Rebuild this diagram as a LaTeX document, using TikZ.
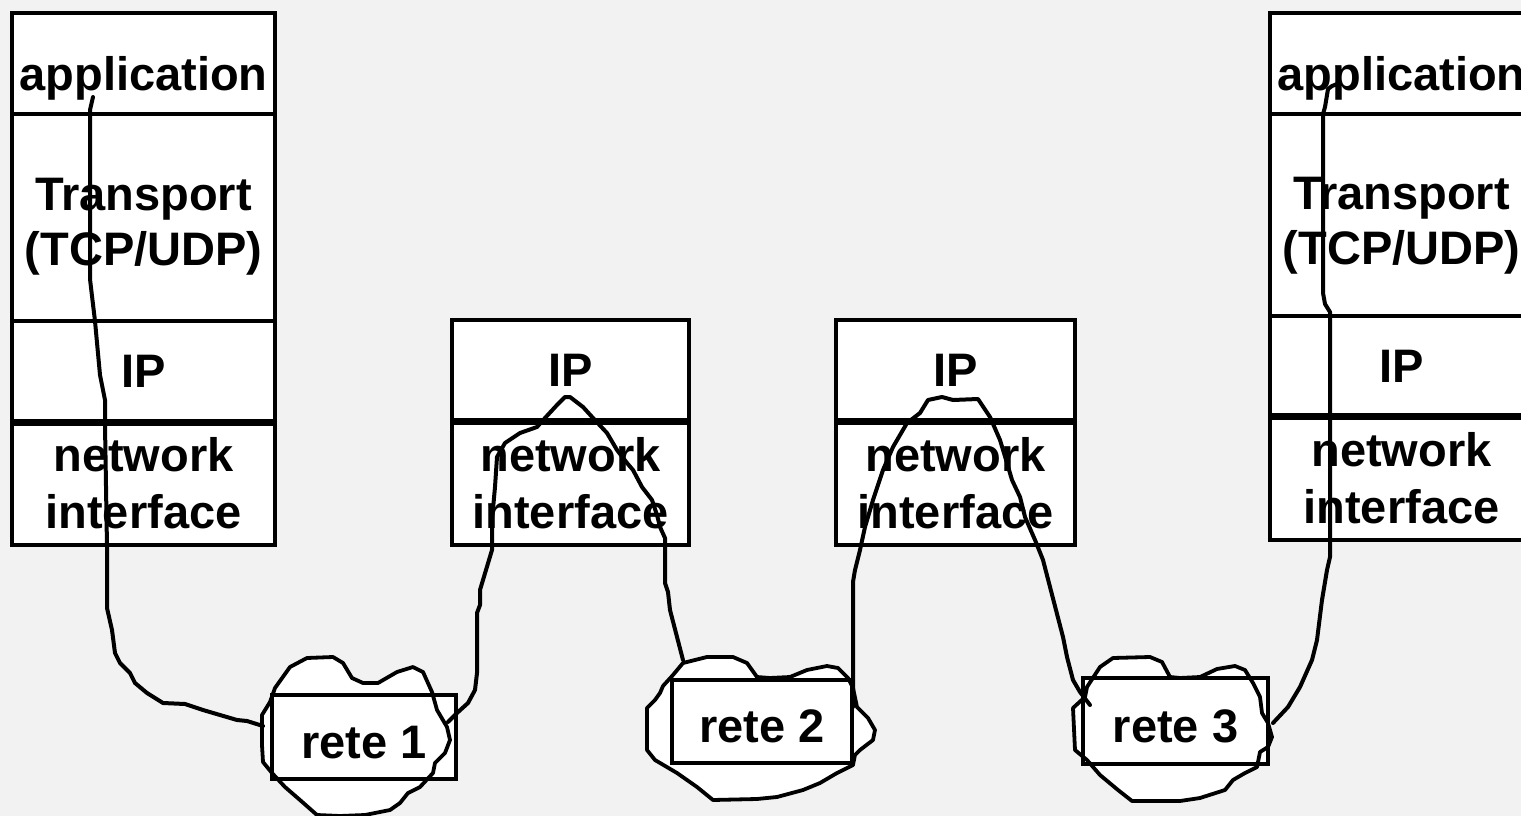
\documentclass[tikz,border=0pt]{standalone}
\usepackage{fontspec}
\setmainfont{Liberation Sans}
\definecolor{paper}{HTML}{F2F2F2}
\begin{document}
\begin{tikzpicture}[x=1pt,y=-1pt,
  lbl/.style={font=\bfseries\fontsize{47}{56}\selectfont, align=center},
  layer/.style={lbl, draw, line width=4pt, fill=white, inner sep=0pt, outer sep=0pt},
  apptext/.style={text height=55pt, text depth=0pt},
  twoline/.style={font=\bfseries\fontsize{47}{55}\selectfont, text depth=0pt},
  nettext/.style={font=\bfseries\fontsize{47}{57}\selectfont},
  netbox/.style={lbl, draw, line width=4pt, inner sep=0pt, outer sep=0pt, text height=42pt, text depth=0pt},
  seam/.style={line width=7pt},
  route/.style={line width=4pt, line join=round, line cap=round},
  blob/.style={line width=3.8pt, line join=round}]
\useasboundingbox (0,0) rectangle (1521,816);
\fill[paper] (0,0) rectangle (1521,816);
\clip (0,0) rectangle (1521,816);

% host on the left: full protocol stack
\node[layer, apptext, minimum width=263pt, minimum height=101pt, anchor=north west] (appL) at (12,13) {application};
\node[layer, twoline, text height=95pt, minimum width=263pt, minimum height=207pt, anchor=north] (trL) at (appL.south) {Transport\\(TCP/UDP)};
\node[layer, minimum width=263pt, minimum height=101pt, anchor=north] (ipL) at (trL.south) {IP};
\node[layer, nettext, minimum width=263pt, minimum height=123pt, anchor=north] (niL) at (ipL.south) {network\\interface};
\draw[seam] (ipL.south west) -- (ipL.south east);

% first router
\node[layer, minimum width=237pt, minimum height=101pt, anchor=north west] (ipA) at (452,320) {IP};
\node[layer, nettext, minimum width=237pt, minimum height=124pt, anchor=north] (niA) at (ipA.south) {network\\interface};
\draw[seam] (ipA.south west) -- (ipA.south east);

% second router
\node[layer, minimum width=239pt, minimum height=101pt, anchor=north west] (ipB) at (836,320) {IP};
\node[layer, nettext, minimum width=239pt, minimum height=124pt, anchor=north] (niB) at (ipB.south) {network\\interface};
\draw[seam] (ipB.south west) -- (ipB.south east);

% host on the right: full protocol stack
\node[layer, apptext, minimum width=263pt, minimum height=101pt, anchor=north west] (appR) at (1270,13) {application};
\node[layer, twoline, text height=99pt, minimum width=263pt, minimum height=202pt, anchor=north] (trR) at (appR.south) {Transport\\(TCP/UDP)};
\node[layer, minimum width=263pt, minimum height=100pt, anchor=north] (ipR) at (trR.south) {IP};
\node[layer, nettext, minimum width=263pt, minimum height=124pt, anchor=north] (niR) at (ipR.south) {network\\interface};
\draw[seam] (ipR.south west) -- (ipR.south east);

% the three networks: cloud outlines
\def\cloudA{(275,688) -- (290,667) -- (307,658) -- (333,657) -- (343,663) -- (352,678) -- (363,683) -- (378,683) -- (397,672) -- (413,667) -- (423,672) -- (432,692) -- (437,710) -- (447,727) -- (450,740) -- (445,753) -- (435,763) -- (433,773) -- (420,787) -- (408,793) -- (400,803) -- (390,810) -- (365,815) -- (340,816) -- (317,815) -- (300,800) -- (285,787) -- (272,773) -- (263,762) -- (262,745) -- (262,715) -- (270,702) -- cycle}
\def\cloudB{(673,675) -- (683,663) -- (707,657) -- (733,657) -- (747,663) -- (757,677) -- (770,678) -- (790,677) -- (807,670) -- (827,666) -- (838,668) -- (848,678) -- (853,688) -- (857,707) -- (868,718) -- (875,730) -- (873,740) -- (860,750) -- (855,755) -- (853,765) -- (837,773) -- (820,783) -- (803,790) -- (777,797) -- (757,799) -- (713,800) -- (697,787) -- (677,773) -- (655,760) -- (647,750) -- (647,708) -- (655,700) -- (660,693) -- (663,686) -- cycle}
\def\cloudC{(1087,687) -- (1100,667) -- (1113,658) -- (1150,657) -- (1162,662) -- (1170,677) -- (1180,678) -- (1200,677) -- (1217,669) -- (1235,666) -- (1245,670) -- (1253,683) -- (1260,697) -- (1262,713) -- (1268,723) -- (1272,737) -- (1268,747) -- (1260,752) -- (1257,767) -- (1245,773) -- (1233,780) -- (1225,790) -- (1200,798) -- (1180,801) -- (1132,801) -- (1118,790) -- (1100,775) -- (1087,760) -- (1075,750) -- (1073,708) -- (1085,697) -- cycle}

\fill[white] \cloudA;
\fill[white] \cloudB;
\fill[white] \cloudC;
\fill[white] (272,695) rectangle (456,779);
\fill[white] (672,680) rectangle (852,763);
\fill[white] (1083,678) rectangle (1268,764);

% path of the data through the stacks
\coordinate (s1) at (93,97);
\coordinate (e1) at (263,726);
\draw[route] (s1) -- (90,110) -- (90,279) -- (92,296) -- (95,321) -- (100,375) -- (105,400) -- (105,425) -- (107,547) -- (107,608) -- (112,630) -- (115,653) -- (120,663) -- (130,673) -- (135,683) -- (147,693) -- (163,703) -- (185,704) -- (203,710) -- (237,720) -- (247,721) -- (e1);

\coordinate (s2) at (448,722);
\coordinate (e2) at (683,660);
\draw[route] (s2) -- (457,713) -- (468,703) -- (475,690) -- (477,673) -- (477,613) -- (480,605) -- (480,590) -- (492,550) -- (492,520) -- (495,487) -- (497,457) -- (505,443) -- (520,433) -- (537,427) -- (545,418) -- (557,405) -- (565,397) -- (570,397) -- (583,407) -- (593,418) -- (607,433) -- (617,450) -- (627,463) -- (633,470) -- (642,487) -- (652,500) -- (657,515) -- (660,527) -- (665,538) -- (665,583) -- (668,592) -- (670,610) -- (e2);

\coordinate (s3) at (853,707);
\coordinate (e3) at (1090,705);
\draw[route] (s3) -- (853,582) -- (855,570) -- (860,550) -- (865,527) -- (873,500) -- (883,470) -- (893,447) -- (907,423) -- (920,413) -- (928,400) -- (942,397) -- (953,400) -- (978,399) -- (990,417) -- (1000,440) -- (1007,463) -- (1012,480) -- (1020,497) -- (1025,517) -- (1035,540) -- (1043,560) -- (1063,637) -- (1067,657) -- (1073,680) -- (1080,692) -- (e3);

\coordinate (s4) at (1273,723);
\coordinate (e4) at (1337,84);
\draw[route] (s4) -- (1288,707) -- (1300,687) -- (1312,660) -- (1317,640) -- (1322,600) -- (1327,570) -- (1330,557) -- (1330,312) -- (1325,304) -- (1323,293) -- (1323,114) -- (1325,107) -- (1328,89) -- (1332,86) -- (e4);

% network outlines and labels
\draw[blob] \cloudA;
\draw[blob] \cloudB;
\draw[blob] \cloudC;
\node[netbox, minimum width=184pt, minimum height=84pt] (n1) at (364,737) {rete 1};
\node[netbox, minimum width=180pt, minimum height=83pt] (n2) at (762,721.5) {rete 2};
\node[netbox, minimum width=185pt, minimum height=86pt] (n3) at (1175.5,721) {rete 3};
\end{tikzpicture}
\end{document}
